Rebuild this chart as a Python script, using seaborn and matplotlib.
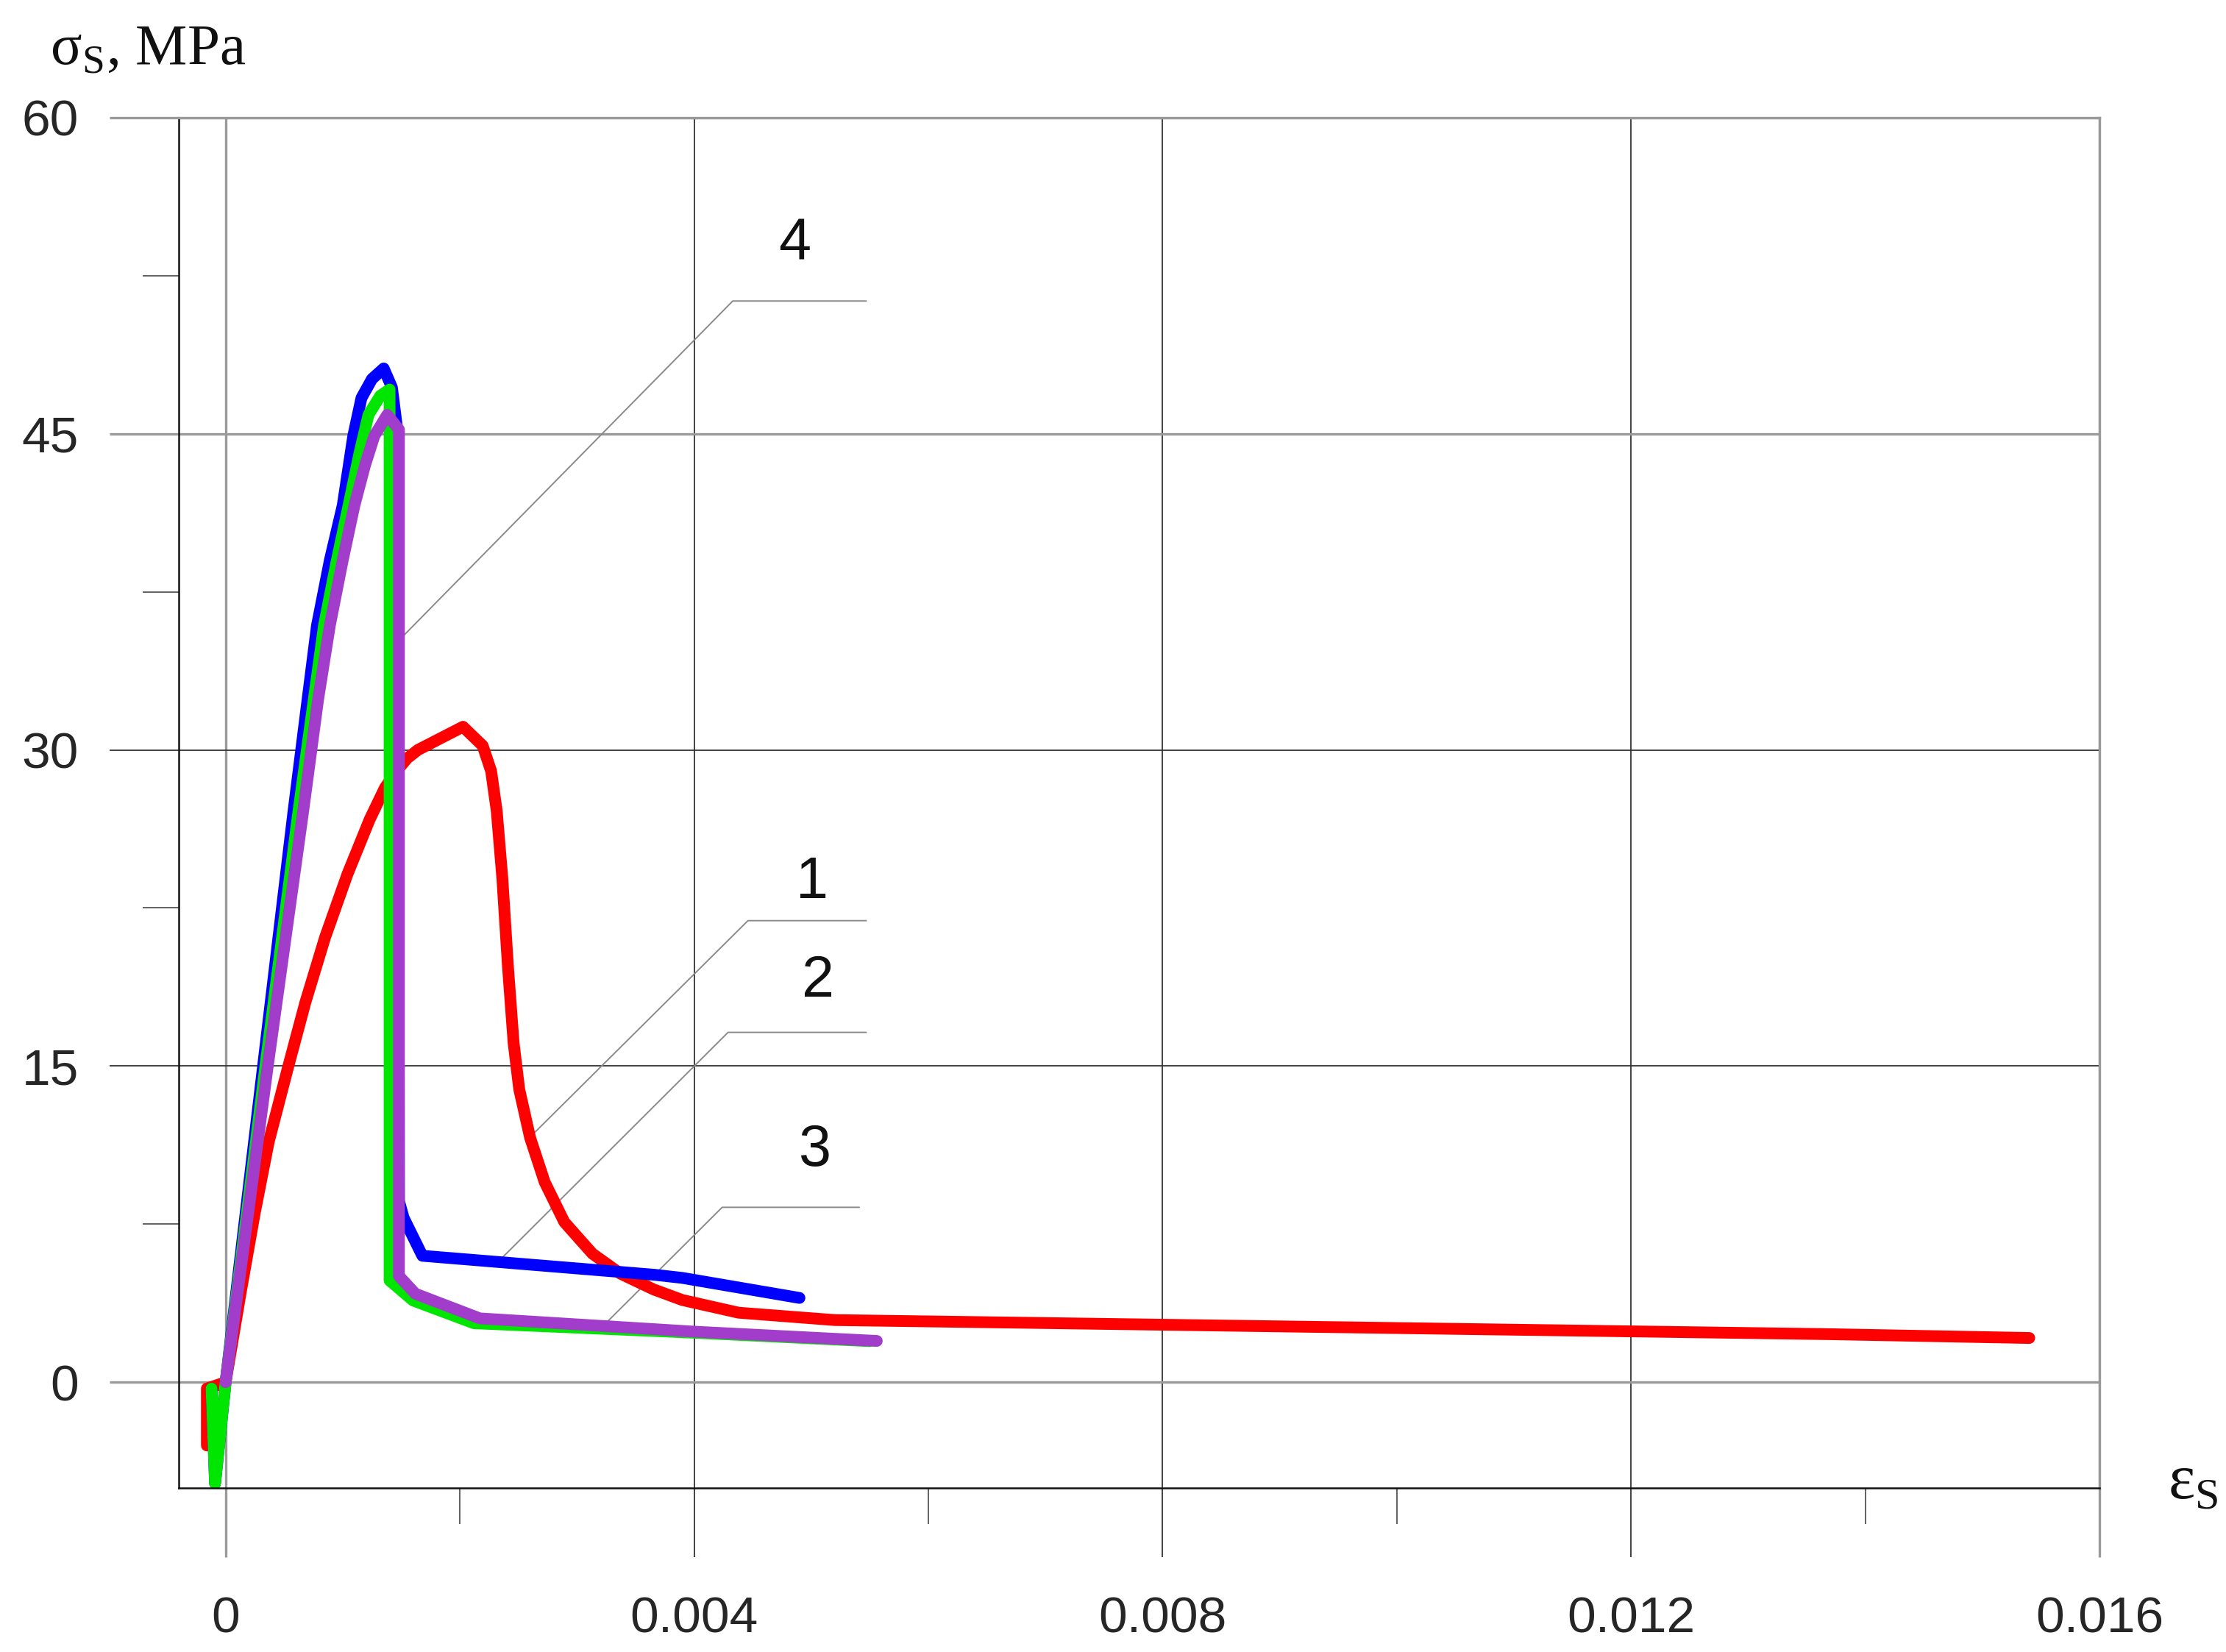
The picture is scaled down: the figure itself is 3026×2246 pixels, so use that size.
import numpy as np
import pandas as pd
import seaborn as sns
import matplotlib.pyplot as plt
from matplotlib.ticker import FixedLocator

sns.set_style('white')
plt.rcParams['font.family'] = ['Liberation Sans', 'DejaVu Sans']
plt.rcParams['mathtext.fontset'] = 'custom'
plt.rcParams['mathtext.rm'] = 'Liberation Serif'

# Curve 1 (red)
eps_1 = [-0.00016, -0.00016, 0.0, 0.000127, 0.000248, 0.000368, 0.000536, 0.00068, 0.000849, 0.00104,
         0.00123, 0.00136, 0.00146, 0.00155, 0.001642, 0.002027, 0.002195, 0.002267, 0.002315, 0.002363,
         0.002411, 0.002459, 0.002507, 0.0026, 0.002724, 0.002892, 0.003132, 0.003372, 0.003656, 0.0039,
         0.00438, 0.0052, 0.0137, 0.0154]
sig_1 = [-3.0, -0.3, 0.0, 4.2, 8.0, 11.4, 15.0, 18.0, 21.1, 24.1,
         26.7, 28.2, 29.0, 29.6, 30.0, 31.1, 30.2, 29.0, 27.1, 23.9,
         19.7, 16.1, 13.9, 11.6, 9.5, 7.6, 6.1, 5.15, 4.4, 3.9,
         3.3, 2.95, 2.28, 2.1]

# Curve 2 (blue)
eps_2 = [-0.00012, -0.00009, 0.0, 0.00032, 0.00058, 0.0007, 0.00078, 0.00089, 0.001, 0.00109,
         0.00116, 0.00125, 0.00135, 0.00142, 0.00147, 0.00148, 0.00152, 0.00168, 0.00366, 0.0039,
         0.0049]
sig_2 = [-0.3, -4.8, 0.0, 15.0, 27.1, 32.4, 35.9, 39.0, 41.6, 44.9,
         46.7, 47.6, 48.1, 47.2, 45.0, 8.6, 7.8, 6.0, 5.1, 4.95,
         4.0]

# Curve 3 (green)
eps_3 = [-0.00012, -0.00009, 0.0, 0.00034, 0.00062, 0.00084, 0.00095, 0.00105, 0.00114, 0.00122,
         0.00132, 0.0014, 0.0014, 0.0016, 0.00212, 0.0040, 0.0055]
sig_3 = [-0.3, -4.8, 0.0, 15.0, 27.0, 35.9, 39.0, 41.6, 44.0, 45.9,
         46.8, 47.1, 4.83, 3.88, 2.8, 2.35, 1.95]

# Curve 4 (purple)
eps_4 = [0.0, 0.00036, 0.00066, 0.00079, 0.00089, 0.001, 0.0011, 0.00119, 0.00127, 0.00138,
         0.00148, 0.00148, 0.00162, 0.00217, 0.0040, 0.00556]
sig_4 = [0.0, 15.0, 27.0, 32.4, 35.9, 39.0, 41.6, 43.5, 44.9, 45.9,
         45.2, 5.04, 4.2, 3.03, 2.4, 1.96]

curve_names = ['1', '2', '3', '4']
curve_colors = ['#ff0000', '#0000ff', '#00e600', '#a23dcb']

x_major = [0, 0.004, 0.008, 0.012, 0.016]
x_labels = ['0', '0.004', '0.008', '0.012', '0.016']
x_minor = [0.002, 0.006, 0.010, 0.014]
y_major = [0, 15, 30, 45, 60]
y_labels = ['0', '15', '30', '45', '60']
y_minor = [7.5, 22.5, 37.5, 52.5]

frames = []
for name, e, s in zip(curve_names, [eps_1, eps_2, eps_3, eps_4], [sig_1, sig_2, sig_3, sig_4]):
    frames.append(pd.DataFrame({'eps': e, 'sigma': s, 'curve': name}))
df = pd.concat(frames, ignore_index=True)

fig = plt.figure(figsize=(30.26, 22.46), dpi=100)
ax = fig.add_axes([0.0803, 0.0995, 0.8629, 0.8293])

sns.lineplot(data=df, x='eps', y='sigma', hue='curve', hue_order=curve_names,
             palette=dict(zip(curve_names, curve_colors)), sort=False, estimator=None,
             linewidth=11.5, legend=False, ax=ax,
             solid_capstyle='round', solid_joinstyle='round')

ax.set_xlim(-0.0004, 0.016)
ax.set_ylim(-5, 60)
ax.set_xlabel('')
ax.set_ylabel('')

ax.xaxis.set_major_locator(FixedLocator(x_major))
ax.xaxis.set_minor_locator(FixedLocator(x_minor))
ax.yaxis.set_major_locator(FixedLocator(y_major))
ax.yaxis.set_minor_locator(FixedLocator(y_minor))
ax.set_xticklabels(x_labels)
ax.set_yticklabels(y_labels)

ax.tick_params(axis='x', which='major', direction='out', length=68, width=1.3,
               color='#333333', pad=38, labelsize=50, bottom=True)
ax.tick_params(axis='y', which='major', direction='out', length=68, width=1.3,
               color='#333333', pad=30, labelsize=50, left=True)
ax.tick_params(axis='both', which='minor', direction='out', length=35, width=1.3,
               color='#555555', bottom=True, left=True)

ax.set_axisbelow(True)
ax.grid(True, which='major', color='#333333', linewidth=1.3)

# the reference draws some of the grid lines lighter and wider
grey = '#9a9a9a'
for tick, val in zip(ax.yaxis.get_major_ticks(), y_major):
    if val in (0, 45, 60):
        tick.gridline.set_color(grey)
        tick.gridline.set_linewidth(2.4)
        tick.tick1line.set_color(grey)
        tick.tick1line.set_markeredgecolor(grey)
        tick.tick1line.set_markeredgewidth(2.4)
for tick, val in zip(ax.xaxis.get_major_ticks(), x_major):
    if val in (0, 0.016):
        tick.gridline.set_color(grey)
        tick.gridline.set_linewidth(2.4)
        tick.tick1line.set_color(grey)
        tick.tick1line.set_markeredgecolor(grey)
        tick.tick1line.set_markeredgewidth(2.4)

for side in ['left', 'bottom']:
    ax.spines[side].set_color('#111111')
    ax.spines[side].set_linewidth(1.8)
for side in ['top', 'right']:
    ax.spines[side].set_color(grey)
    ax.spines[side].set_linewidth(2.4)

# numbered leaders
label_pos = {'4': (0.00486, 54.0), '1': (0.00501, 23.7), '2': (0.00506, 19.0), '3': (0.00503, 11.0)}
leaders = {
    '4': ([0.00547, 0.00433, 0.00148], [51.3, 51.3, 35.2]),
    '1': ([0.00547, 0.00446, 0.00263], [21.9, 21.9, 11.8]),
    '2': ([0.00547, 0.00429, 0.00236], [16.6, 16.6, 5.9]),
    '3': ([0.00541, 0.00424, 0.00321], [8.3, 8.3, 2.6]),
}
for name in curve_names:
    lx, ly = leaders[name]
    ax.plot(lx, ly, color='#8a8a8a', linewidth=1.4, zorder=1.5)
    tx, ty = label_pos[name]
    ax.text(tx, ty, name, fontsize=57, ha='center', va='center', color='#111111')

fig.text(0.0225, 0.9613, r'$\mathrm{σ}_\mathrm{S}$, MPa', family='Liberation Serif',
         fontsize=57, va='baseline', ha='left', color='#111111')
fig.text(0.974, 0.093, r'$\mathrm{ε}_\mathrm{S}$', family='Liberation Serif',
         fontsize=62, va='baseline', ha='left', color='#111111')

fig.savefig('out.png', dpi=100)
